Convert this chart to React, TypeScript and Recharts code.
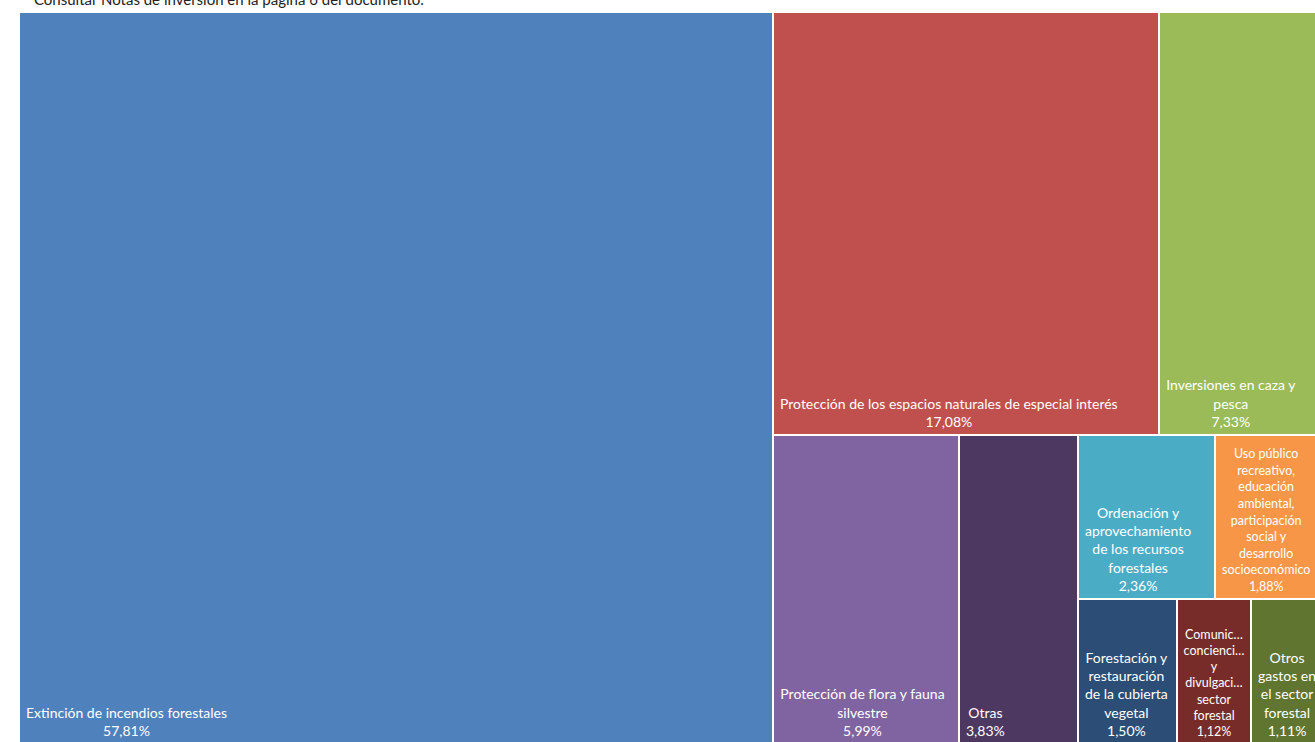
import React from "react";
import { Treemap } from "recharts";

const categories = [
  "Extinción de incendios forestales",
  "Protección de los espacios naturales de especial interés",
  "Inversiones en caza y pesca",
  "Protección de flora y fauna silvestre",
  "Otras",
  "Ordenación y aprovechamiento de los recursos forestales",
  "Uso público recreativo, educación ambiental, participación social y desarrollo socioeconómico",
  "Forestación y restauración de la cubierta vegetal",
  "Comunicación, concienciación y divulgación del sector forestal",
  "Otros gastos en el sector forestal",
];

const shares = [57.81, 17.08, 7.33, 5.99, 3.83, 2.36, 1.88, 1.5, 1.12, 1.11];

const labelLines: string[][] = [
  ["Extinción de incendios forestales"],
  ["Protección de los espacios naturales de especial interés"],
  ["Inversiones en caza y", "pesca"],
  ["Protección de flora y fauna", "silvestre"],
  ["Otras"],
  ["Ordenación y", "aprovechamiento", "de los recursos", "forestales"],
  ["Uso público", "recreativo,", "educación", "ambiental,", "participación", "social y", "desarrollo", "socioeconómico"],
  ["Forestación y", "restauración", "de la cubierta", "vegetal"],
  ["Comunic…", "concienci…", "y", "divulgaci…", "sector", "forestal"],
  ["Otros", "gastos en", "el sector", "forestal"],
];

// grouping of category indices (nesting the treemap levels)
const layoutGroups: any = [0, [[1, 2], [3, 4, [[5, 6], [7, 8, 9]]]]];

const colors = ["#4F81BD", "#C0504D", "#9BBB59", "#8064A2", "#4D3862", "#4BACC6", "#F79646", "#2C4D75", "#772C2A", "#5F7530"];
const labelSizes = [14, 14, 14, 14, 14, 14, 12.5, 14, 12.5, 14];
const lineHeights = [18.3, 18.3, 18.5, 18.3, 18.3, 18.3, 16.6, 18.3, 16.2, 18.3];

const FONT = "Lato";

const build = (g: any, id: string): any =>
  typeof g === "number"
    ? { name: categories[g], value: shares[g] }
    : { name: "grupo-" + id, children: g.map((c: any, i: number) => build(c, id + "-" + i)) };

const treeData = build(layoutGroups, "r").children;

let ctx: CanvasRenderingContext2D | null = null;
const measure = (t: string, fs: number) => {
  if (!ctx) ctx = document.createElement("canvas").getContext("2d");
  if (!ctx) return t.length * fs * 0.5;
  ctx.font = `${fs}px ${FONT}`;
  return ctx.measureText(t).width;
};

const fmt = (v: number) => v.toFixed(2).replace(".", ",") + "%";

const CellContent = (props: any) => {
  const { x, y, width, height, name } = props;
  const i = categories.indexOf(name);
  if (i < 0 || width == null) return null;
  const fs = labelSizes[i];
  const lh = lineHeights[i];
  const lines = [...labelLines[i], fmt(shares[i])];
  const blockW = Math.max(...lines.map((l) => measure(l, fs)));
  const pad = 7;
  let cx = x + pad + blockW / 2;
  if (blockW > width - 2 * pad) cx = x + width / 2;
  const lastBaseline = y + height - 8;
  return (
    <g>
      <rect x={x + 1} y={y + 1} width={Math.max(0, width - 2)} height={Math.max(0, height - 2)} fill={colors[i]} />
      <text textAnchor="middle" fill="#ffffff" fontSize={fs} fontFamily={FONT}>
        {lines.map((l, k) => (
          <tspan key={k} x={cx} y={lastBaseline - (lines.length - 1 - k) * lh}>
            {l}
          </tspan>
        ))}
      </text>
    </g>
  );
};

export default function App() {
  return (
    <div style={{ position: "fixed", left: 0, top: 0, right: 0, bottom: 0, overflow: "hidden", background: "#ffffff" }}>
      <div
        style={{
          position: "absolute",
          left: 34,
          top: -9,
          fontFamily: FONT,
          fontSize: 15,
          color: "#222",
          whiteSpace: "nowrap",
          lineHeight: "16px",
        }}
      >
        Consultar Notas de inversión en la página 6 del documento.
      </div>
      <div style={{ position: "absolute", left: 19, top: 12 }}>
        <Treemap
          width={1305}
          height={732}
          data={treeData}
          dataKey="value"
          nameKey="name"
          aspectRatio={0.01}
          isAnimationActive={false}
          content={<CellContent />}
        />
      </div>
    </div>
  );
}
